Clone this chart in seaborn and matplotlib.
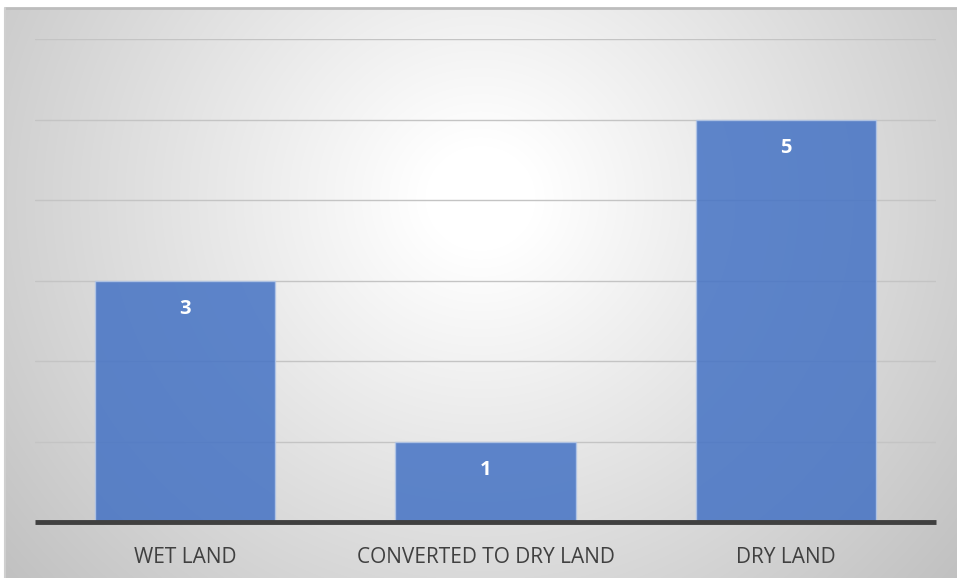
import numpy as np
import pandas as pd
import matplotlib
matplotlib.use("Agg")
import matplotlib.pyplot as plt
import seaborn as sns

categories = ["WET LAND", "CONVERTED TO DRY LAND", "DRY LAND"]
counts = [3, 1, 5]

df = pd.DataFrame({"category": categories, "count": counts})

sns.set_theme(style="white")
plt.rcParams["font.family"] = ["Open Sans", "DejaVu Sans"]

W, H = 957, 578
fig = plt.figure(figsize=(W / 100, H / 100), dpi=100)
fig.patch.set_facecolor("white")

# Radial grey-to-white background panel with a thin top/left frame
bg_left, bg_top = 5, 8
bg = fig.add_axes([bg_left / W, 0, (W - bg_left) / W, (H - bg_top) / H])
bw, bh = W - bg_left, H - bg_top
xx, yy = np.meshgrid(np.arange(bw), np.arange(bh))
d = np.hypot(xx - 475, (yy - 190) * 1.05)
val = np.clip(255 - 0.11 * np.clip(d - 55, 0, None), 0, 255) / 255.0
img = np.dstack([val, val, val])
bg.imshow(img, aspect="auto", interpolation="bilinear", extent=[0, bw, bh, 0])
bg.set_axis_off()
fig.add_artist(plt.Line2D([bg_left / W, 1], [(H - bg_top) / H] * 2,
                          color="#bdbdbd", lw=2.0, transform=fig.transFigure))
fig.add_artist(plt.Line2D([bg_left / W] * 2, [0, (H - bg_top) / H],
                          color="#cfcfcf", lw=1.5, transform=fig.transFigure))

# Plot area
x0, x1 = 35, 936
y_top, y_bot = 39, 522
ax = fig.add_axes([x0 / W, 1 - y_bot / H, (x1 - x0) / W, (y_bot - y_top) / H])
ax.patch.set_alpha(0)

for v in range(1, 7):
    ax.axhline(v, color="#c4c4c4", lw=1.0, zorder=0)

sns.barplot(data=df, x="category", y="count", ax=ax, color="#4472C4",
            width=0.6, saturation=1, alpha=0.85, edgecolor="#b4c7e7",
            linewidth=1.0, zorder=2)

ax.set_xlim(-0.5, 2.5)
ax.set_ylim(0, 6)
ax.axhline(0, color="#404040", lw=3.5, zorder=3, clip_on=False,
           solid_capstyle="butt")
for s in ax.spines.values():
    s.set_visible(False)
ax.set_yticks([])
ax.set_xlabel("")
ax.set_ylabel("")
ax.tick_params(axis="x", length=0, pad=18, labelsize=15, labelcolor="#404040")

for i, v in enumerate(counts):
    ax.annotate(str(v), xy=(i, v), xytext=(0, -20.5), textcoords="offset points",
                ha="center", va="center", color="white", fontsize=14.5,
                fontweight="bold", zorder=4)

fig.savefig("out.png", dpi=100)
